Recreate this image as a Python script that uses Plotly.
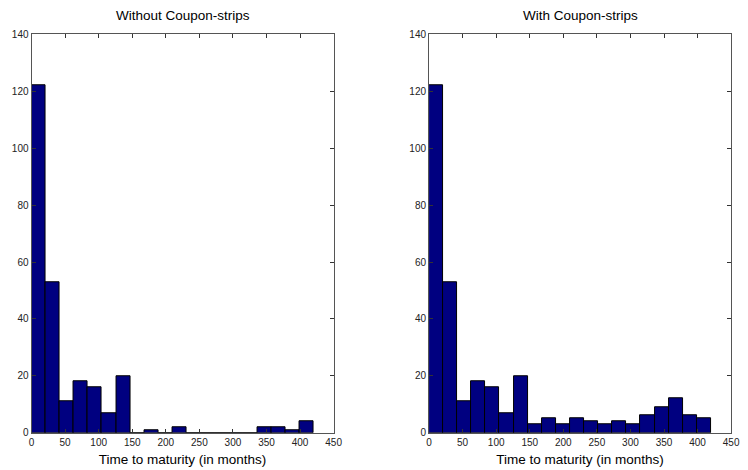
import plotly.graph_objects as go

# Histogram bins (months): 20 equal bins from 0 to 420
bin_width = 21
bin_centers = [10.5 + bin_width * i for i in range(20)]

without_strips = [122, 53, 11, 18, 16, 7, 20, 0, 1, 0, 2, 0, 0, 0, 0, 0, 2, 2, 1, 4]
with_strips = [122, 53, 11, 18, 16, 7, 20, 3, 5, 3, 5, 4, 3, 4, 3, 6, 9, 12, 6, 5]

titles = ["Without Coupon-strips", "With Coupon-strips"]
x_ticks = [0, 50, 100, 150, 200, 250, 300, 350, 400, 450]
y_ticks = [0, 20, 40, 60, 80, 100, 120, 140]

W, H = 748, 470
x_domains = [[29 / W, 336 / W], [433 / W, 740 / W]]
y_domain = [1 - 438 / H, 1 - 29 / H]

fig = go.Figure()
for i, counts in enumerate([without_strips, with_strips]):
    ax = "" if i == 0 else "2"
    fig.add_trace(go.Bar(
        x=bin_centers, y=counts, width=bin_width,
        marker=dict(color="#000080", line=dict(color="#000000", width=1)),
        xaxis="x" + ax, yaxis="y" + ax, showlegend=False,
    ))

font_family = "Liberation Sans, Arial, sans-serif"
axis_common = dict(
    showgrid=False, zeroline=False, showline=True, linecolor="#555555", linewidth=1,
    mirror="ticks", ticks="inside", ticklen=4, tickcolor="#333333",
    tickfont=dict(family=font_family, size=10, color="#222222"),
)

layout = dict(
    width=W, height=H, margin=dict(l=0, r=0, t=0, b=0),
    paper_bgcolor="white", plot_bgcolor="white", bargap=0,
    font=dict(family=font_family), annotations=[],
)
for i in range(2):
    ax = "" if i == 0 else "2"
    layout["xaxis" + ax] = dict(
        axis_common, domain=x_domains[i], range=[0, 450], tickvals=x_ticks,
        anchor="y" + ax,
        title=dict(text="Time to maturity (in months)", font=dict(family=font_family, size=13.5, color="#000"), standoff=7),
    )
    layout["yaxis" + ax] = dict(
        axis_common, domain=y_domain, range=[0, 140], tickvals=y_ticks,
        anchor="x" + ax,
    )
    layout["annotations"].append(dict(
        text=titles[i], x=(x_domains[i][0] + x_domains[i][1]) / 2, y=1 - 10 / H,
        xref="paper", yref="paper", showarrow=False, xanchor="center", yanchor="middle",
        font=dict(family=font_family, size=13.5, color="#000"),
    ))

fig.update_layout(**layout)
fig.write_html("out.html")
